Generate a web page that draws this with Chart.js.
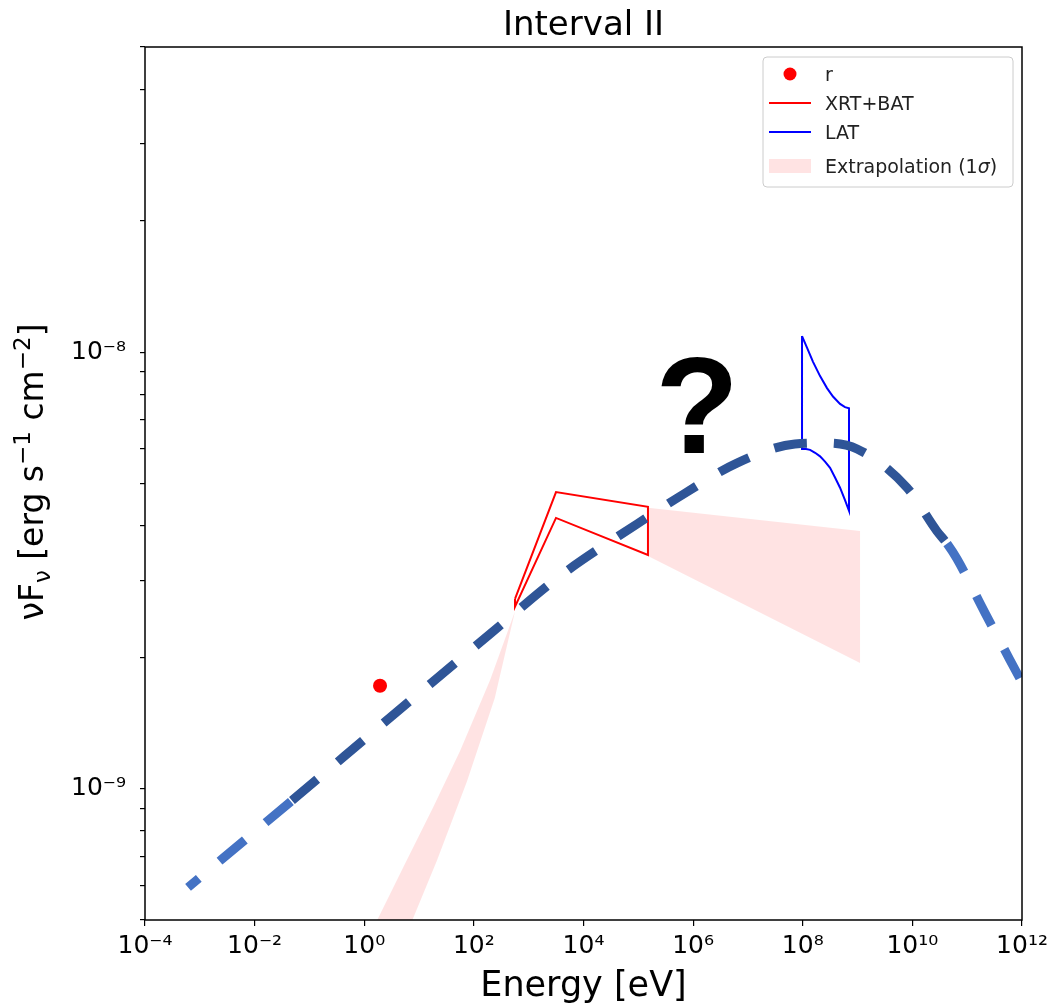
<!DOCTYPE html>
<html>
<head>
<meta charset="utf-8">
<title>Interval II</title>
<script src="https://cdn.jsdelivr.net/npm/chart.js@4.4.0/dist/chart.umd.min.js"></script>
<style>
  body { margin: 0; background: white; }
</style>
</head>
<body>
<canvas id="myChart" width="1056" height="1005"></canvas>
<script>
// Curva del modelo (linea discontinua)
const curveEnergy = [6.1e-4, 0.048, 3.96, 197, 3730, 9.5e4, 7.1e5, 6.3e6, 7.2e7, 2.55e8, 9.8e8, 8e9, 2.8e10, 4.3e10, 6.5e10, 2.1e11, 1e12];
const curveFlux = [5.94e-10, 9.39e-10, 1.50e-9, 2.26e-9, 3.07e-9, 4.04e-9, 4.75e-9, 5.57e-9, 6.16e-9, 6.19e-9, 6.0e-9, 4.89e-9, 3.89e-9, 3.64e-9, 3.36e-9, 2.53e-9, 1.75e-9];
// tramo oscuro de la curva
const darkFrom = 0.048;
const darkTo = 4.3e10;

// Punto r
const rEnergy = [1.94];
const rFlux = [1.72e-9];

// Contorno XRT+BAT
const xrtEnergy = [563, 3150, 1.5e5, 1.5e5, 3150, 563, 563];
const xrtFlux = [2.72e-9, 4.78e-9, 4.42e-9, 3.43e-9, 4.17e-9, 2.61e-9, 2.72e-9];

// Contorno LAT
const latEnergy = [9.7e7, 1.2e8, 1.54e8, 2.07e8, 2.77e8, 3.56e8, 4.79e8, 5.9e8, 6.98e8,
    6.98e8, 5.9e8, 4.79e8, 3.88e8, 3.15e8, 2.55e8, 2.07e8, 1.68e8, 1.36e8, 1.15e8, 9.7e7, 9.7e7];
const latFlux = [1.088e-8, 1.022e-8, 9.50e-9, 8.81e-9, 8.27e-9, 7.91e-9, 7.61e-9, 7.48e-9, 7.44e-9,
    4.33e-9, 4.58e-9, 4.89e-9, 5.16e-9, 5.43e-9, 5.61e-9, 5.77e-9, 5.88e-9, 5.97e-9, 6.0e-9, 6.0e-9, 1.088e-8];

// Extrapolacion (1 sigma) baja y alta energia
const extLowEnergy = [0.738, 1.78, 5.1, 18, 55.9, 197, 563, 240, 75, 21.2, 7.76, 3.8];
const extLowFlux = [4.04e-10, 5.04e-10, 6.59e-10, 9.05e-10, 1.22e-9, 1.77e-9, 2.55e-9, 1.61e-9, 1.04e-9, 6.84e-10, 5.04e-10, 4.04e-10];
const extHighEnergy = [1.5e5, 1.11e9, 1.11e9, 1.5e5];
const extHighFlux = [4.40e-9, 3.89e-9, 1.94e-9, 3.41e-9];

// Texto "?"
const questionEnergy = 1.18e6;
const questionFlux = 5.87e-9;

// Ticks de los ejes
const xTicks = [1e-4, 1e-2, 1e0, 1e2, 1e4, 1e6, 1e8, 1e10, 1e12];
const yTicks = [5e-10, 6e-10, 7e-10, 8e-10, 9e-10, 1e-9, 2e-9, 3e-9, 4e-9, 5e-9, 6e-9, 7e-9, 8e-9, 9e-9, 1e-8, 2e-8, 3e-8, 4e-8, 5e-8];

const darkBlue = '#2f5597';
const lightBlue = '#4472c4';
const pink = 'rgba(255, 0, 0, 0.11)';

function toPoints(xs, ys) {
    return xs.map((x, i) => ({ x: x, y: ys[i] }));
}

const supMap = { '-': '⁻', '0': '⁰', '1': '¹', '2': '²', '3': '³', '4': '⁴', '5': '⁵', '6': '⁶', '7': '⁷', '8': '⁸', '9': '⁹' };
// Etiqueta 10^n con superindice
function powLabel(v) {
    const e = Math.log10(v);
    if (Math.abs(e - Math.round(e)) > 1e-6) return '';
    return '10' + String(Math.round(e)).split('').map(c => supMap[c]).join('');
}

// Dibuja texto con partes de distinto tamano (para el titulo del eje y)
function drawRich(ctx, parts, size) {
    let total = 0;
    parts.forEach(p => {
        ctx.font = Math.round(size * p.s) + 'px "DejaVu Sans"';
        p.w = ctx.measureText(p.t).width;
        total += p.w;
    });
    let x = -total / 2;
    parts.forEach(p => {
        ctx.font = Math.round(size * p.s) + 'px "DejaVu Sans"';
        ctx.fillText(p.t, x, (p.dy || 0) * size);
        x += p.w;
    });
}

const decor = {
    id: 'decor',
    afterDatasetsDraw(chart) {
        const ctx = chart.ctx;
        const xs = chart.scales.x, ys = chart.scales.y;
        ctx.save();
        ctx.fillStyle = 'black';
        ctx.font = 'bold 137px "Liberation Sans"';
        ctx.textAlign = 'center';
        ctx.textBaseline = 'alphabetic';
        ctx.fillText('?', xs.getPixelForValue(questionEnergy), ys.getPixelForValue(questionFlux));
        ctx.restore();
    },
    afterDraw(chart) {
        const ctx = chart.ctx;
        const a = chart.chartArea;
        ctx.save();
        // marco
        ctx.strokeStyle = 'black';
        ctx.lineWidth = 1.5;
        ctx.strokeRect(a.left, a.top, a.right - a.left, a.bottom - a.top);

        // titulos
        ctx.fillStyle = 'black';
        ctx.textAlign = 'center';
        ctx.textBaseline = 'alphabetic';
        ctx.font = '34px "DejaVu Sans"';
        ctx.fillText('Interval II', (a.left + a.right) / 2, 35);
        ctx.font = '35px "DejaVu Sans"';
        ctx.fillText('Energy [eV]', (a.left + a.right) / 2, 996);

        ctx.save();
        ctx.translate(43, 472);
        ctx.rotate(-Math.PI / 2);
        ctx.textAlign = 'left';
        drawRich(ctx, [
            { t: 'ν', s: 1 },
            { t: 'F', s: 1 },
            { t: 'ν', s: 0.7, dy: 0.2 },
            { t: ' [erg s', s: 1 },
            { t: '−1', s: 0.7, dy: -0.4 },
            { t: ' cm', s: 1 },
            { t: '−2', s: 0.7, dy: -0.4 },
            { t: ']', s: 1 }
        ], 33);
        ctx.restore();

        // leyenda
        const lx = 763, ly = 57, lw = 250, lh = 130;
        ctx.beginPath();
        ctx.roundRect(lx, ly, lw, lh, 4);
        ctx.fillStyle = 'rgba(255,255,255,0.8)';
        ctx.fill();
        ctx.strokeStyle = '#cccccc';
        ctx.lineWidth = 1;
        ctx.stroke();

        ctx.fillStyle = 'red';
        ctx.beginPath();
        ctx.arc(790, 74, 6.5, 0, Math.PI * 2);
        ctx.fill();

        ctx.lineWidth = 2;
        ctx.strokeStyle = 'red';
        ctx.beginPath(); ctx.moveTo(769, 103); ctx.lineTo(811, 103); ctx.stroke();
        ctx.strokeStyle = 'blue';
        ctx.beginPath(); ctx.moveTo(769, 132); ctx.lineTo(811, 132); ctx.stroke();
        ctx.fillStyle = pink;
        ctx.fillRect(769, 159, 42, 14);

        ctx.fillStyle = '#222';
        ctx.textAlign = 'left';
        ctx.font = '19px "DejaVu Sans"';
        ctx.fillText('r', 825, 81);
        ctx.fillText('XRT+BAT', 825, 110);
        ctx.fillText('LAT', 825, 139);
        let tx = 825;
        ctx.fillText('Extrapolation (1', tx, 173);
        tx += ctx.measureText('Extrapolation (1').width;
        ctx.font = 'italic 19px "DejaVu Sans"';
        ctx.fillText('σ', tx, 173);
        tx += ctx.measureText('σ').width;
        ctx.font = '19px "DejaVu Sans"';
        ctx.fillText(')', tx, 173);
        ctx.restore();
    }
};

Chart.defaults.font.family = '"DejaVu Sans"';
Chart.defaults.color = 'black';

// tramo de la curva: -1 izquierda clara, 0 oscuro, 1 derecha clara
function curvePart(ctx) {
    if (ctx.p1.parsed.x <= darkFrom) return -1;
    if (ctx.p0.parsed.x >= darkTo) return 1;
    return 0;
}

const config = {
    type: 'scatter',
    data: {
        datasets: [
            {
                label: 'Extrapolation low',
                data: toPoints(extLowEnergy, extLowFlux),
                showLine: true,
                fill: 'shape',
                backgroundColor: pink,
                borderWidth: 0,
                pointRadius: 0,
                order: 5
            },
            {
                label: 'Extrapolation high',
                data: toPoints(extHighEnergy, extHighFlux),
                showLine: true,
                fill: 'shape',
                backgroundColor: pink,
                borderWidth: 0,
                pointRadius: 0,
                order: 5
            },
            {
                label: 'XRT+BAT',
                data: toPoints(xrtEnergy, xrtFlux),
                showLine: true,
                borderColor: 'red',
                borderWidth: 2,
                pointRadius: 0,
                order: 3
            },
            {
                label: 'LAT',
                data: toPoints(latEnergy, latFlux),
                showLine: true,
                borderColor: 'blue',
                borderWidth: 2,
                pointRadius: 0,
                order: 3
            },
            {
                label: 'r',
                data: toPoints(rEnergy, rFlux),
                backgroundColor: 'red',
                borderWidth: 0,
                pointRadius: 7,
                order: 2
            },
            {
                label: 'model',
                data: toPoints(curveEnergy, curveFlux),
                showLine: true,
                borderColor: darkBlue,
                borderWidth: 9,
                borderDash: [33, 27],
                borderCapStyle: 'butt',
                cubicInterpolationMode: 'monotone',
                pointRadius: 0,
                segment: {
                    borderColor: ctx => curvePart(ctx) === 0 ? darkBlue : lightBlue,
                    borderDashOffset: ctx => curvePart(ctx) === -1 ? 19 : 0
                },
                order: 1
            }
        ]
    },
    options: {
        responsive: false,
        animation: false,
        devicePixelRatio: 1,
        layout: { padding: { left: 0, top: 47, right: 34, bottom: 0 } },
        plugins: {
            legend: { display: false },
            tooltip: { enabled: false }
        },
        scales: {
            x: {
                type: 'logarithmic',
                position: 'bottom',
                min: 1e-4,
                max: 1e12,
                afterBuildTicks: axis => { axis.ticks = xTicks.map(v => ({ value: v })); },
                afterFit: axis => { axis.height = 85; },
                border: { display: false },
                grid: { drawOnChartArea: false, drawTicks: true, tickLength: 6, color: 'black', lineWidth: 1.2 },
                ticks: {
                    autoSkip: false,
                    maxRotation: 0,
                    padding: 5,
                    font: { size: 25 },
                    color: 'black',
                    callback: v => powLabel(v)
                }
            },
            y: {
                type: 'logarithmic',
                min: 5e-10,
                max: 5e-8,
                afterBuildTicks: axis => { axis.ticks = yTicks.map(v => ({ value: v })); },
                afterFit: axis => { axis.width = 145; },
                border: { display: false },
                grid: { drawOnChartArea: false, drawTicks: true, tickLength: 5, color: 'black', lineWidth: 1.2 },
                ticks: {
                    autoSkip: false,
                    padding: 14,
                    font: { size: 25 },
                    color: 'black',
                    callback: v => powLabel(v)
                }
            }
        }
    },
    plugins: [decor]
};

const chartDOM = document.getElementById('myChart');
window.grafica = new Chart(chartDOM, config);
</script>
</body>
</html>
